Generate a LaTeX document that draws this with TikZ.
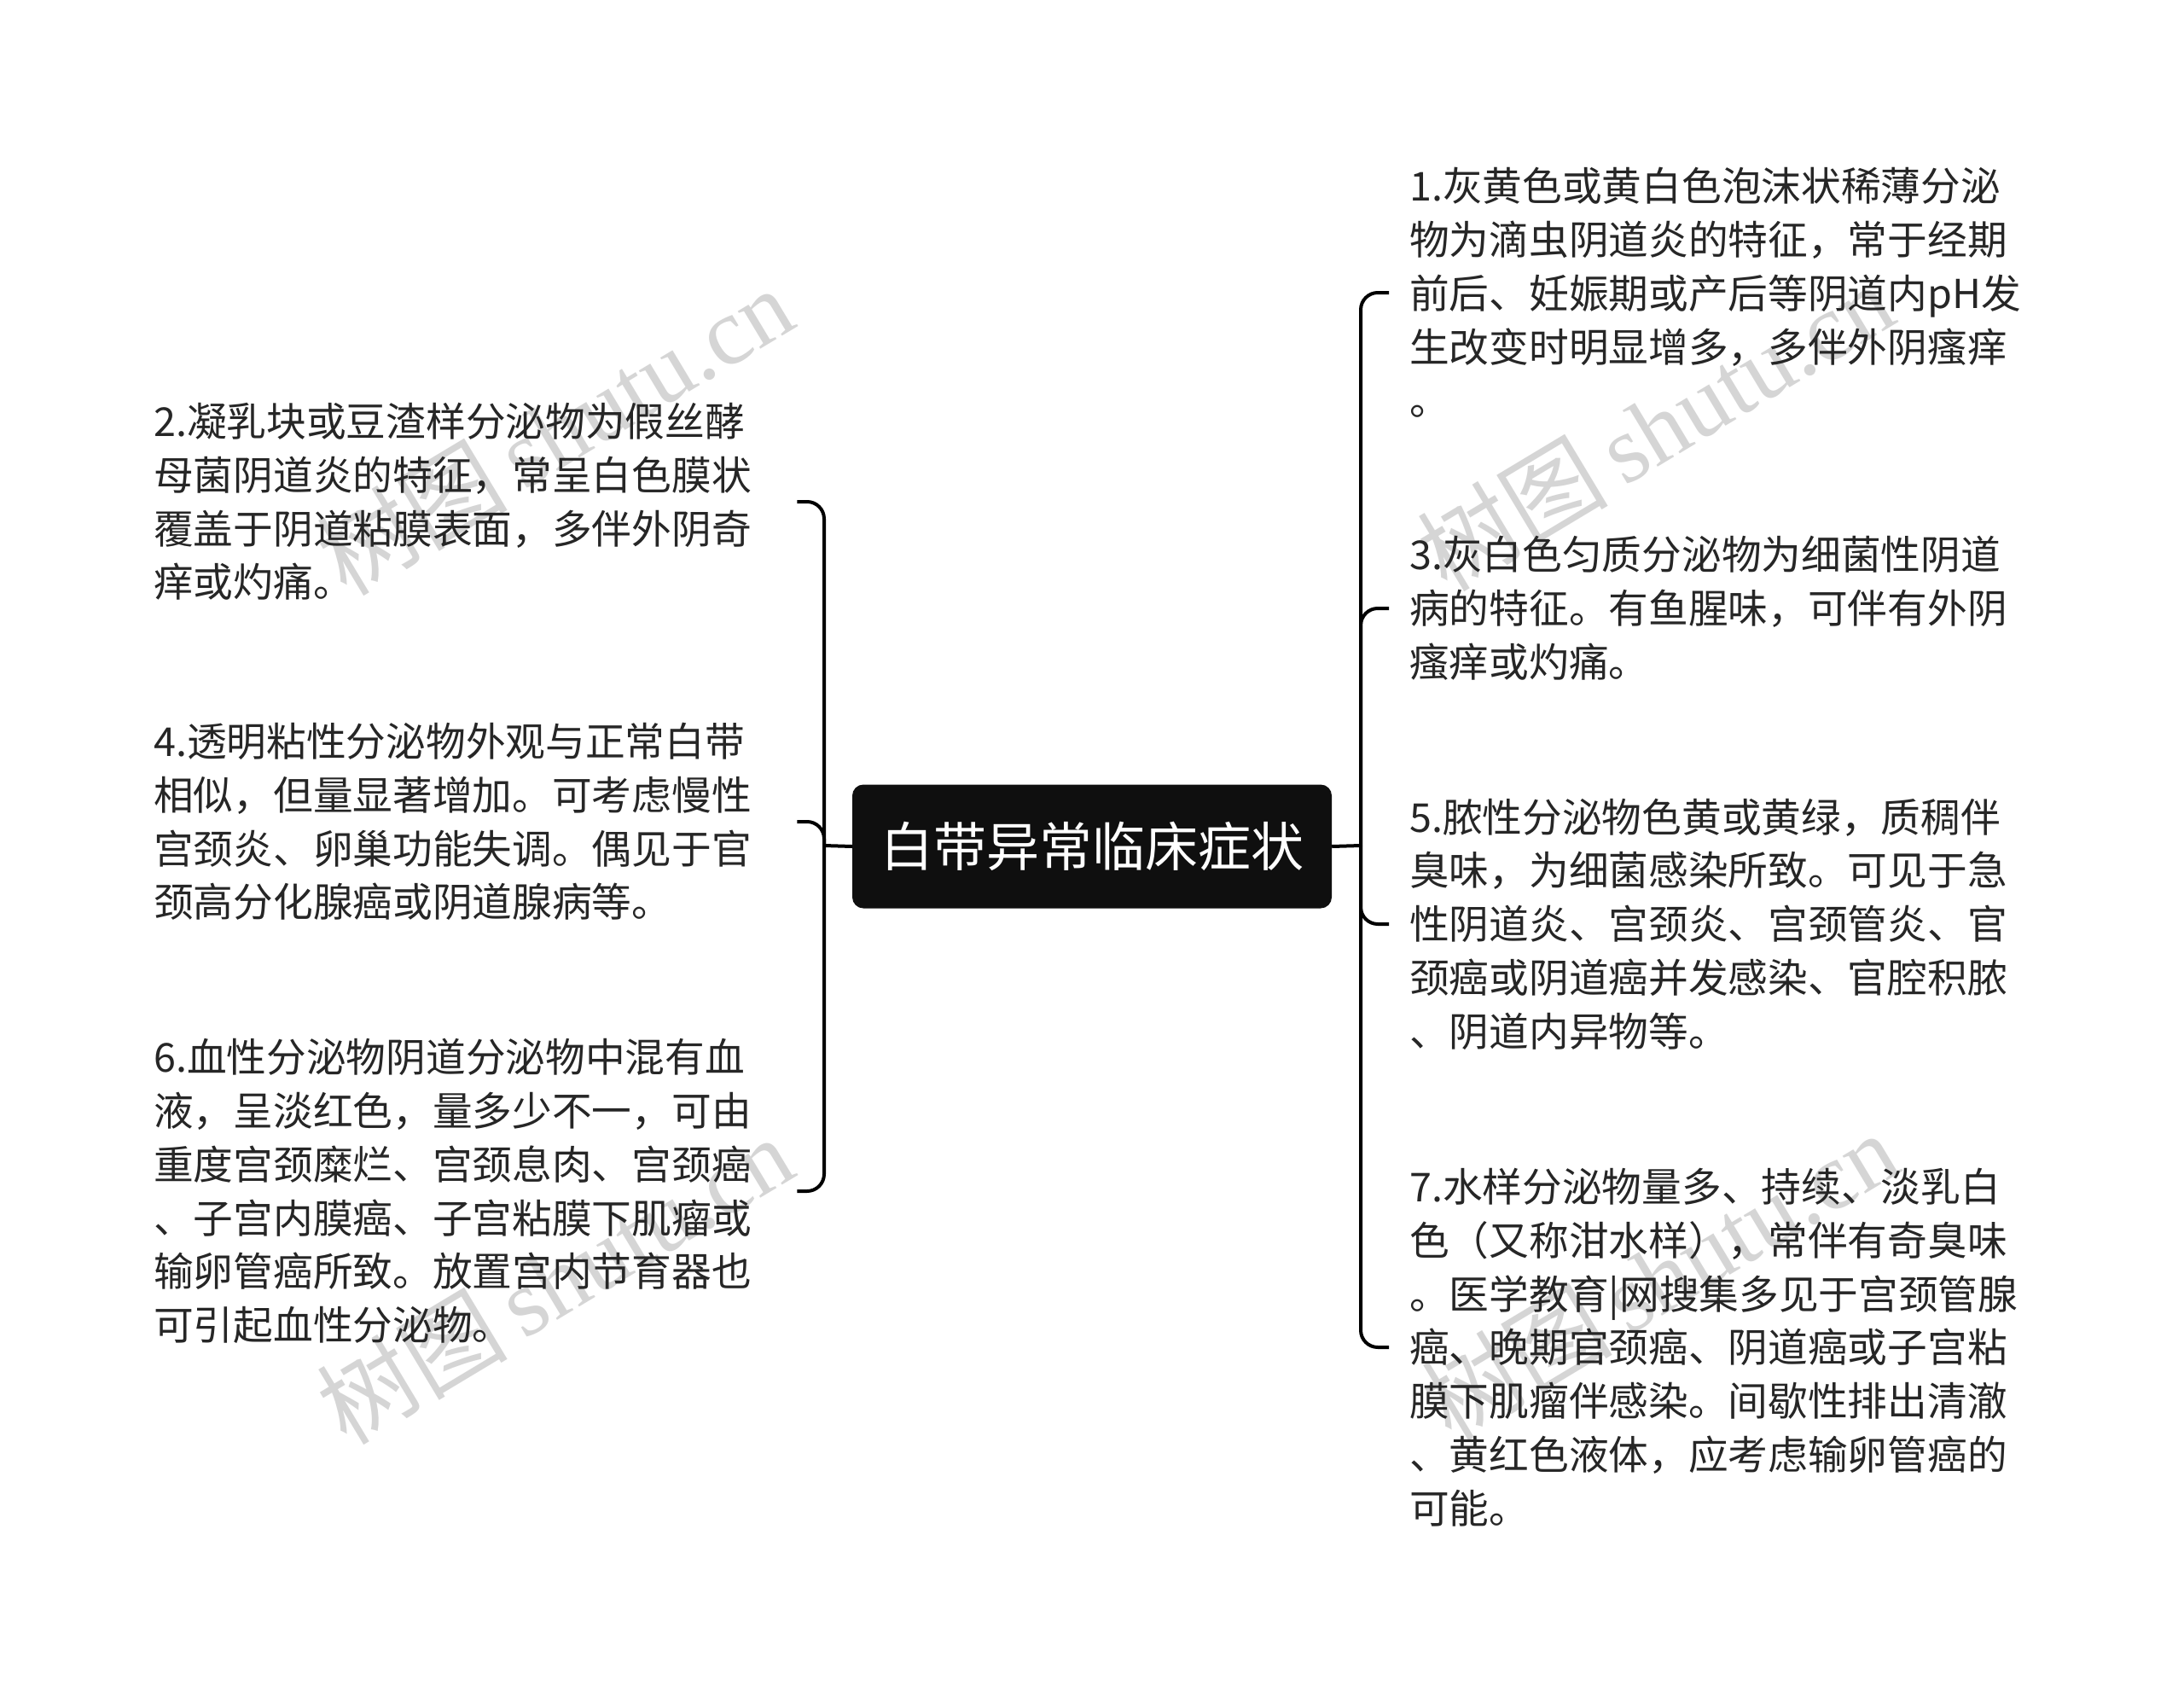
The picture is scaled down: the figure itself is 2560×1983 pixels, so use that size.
\documentclass[tikz,border=0pt]{standalone}
\usepackage{fontspec}
\newfontfamily\cjk{Noto Sans CJK SC}
\newfontfamily\wmserif{Liberation Serif}
\definecolor{txt}{HTML}{262626}
\definecolor{rootfill}{HTML}{0F0F0F}
\definecolor{wm}{HTML}{C8C8C8}
\tikzset{
  leaf/.style={anchor=west, inner sep=0pt, align=left, text=txt,
    font=\cjk\fontsize{46.7}{62.8}\selectfont},
  leftleaf/.style={leaf, text width=754pt},
  rightleaf/.style={leaf, inner xsep=24pt, inner ysep=0pt},
  rootbox/.style={fill=rootfill, rounded corners=13pt, minimum width=562pt,
    minimum height=145pt, inner sep=0pt, text=white,
    font=\cjk\fontsize{62}{70}\selectfont},
  link/.style={line width=4pt, draw=black, rounded corners=20pt},
  watermark/.style={rotate=31, text=wm, opacity=0.75, inner sep=0pt}
}
\begin{document}
\begin{tikzpicture}[x=1pt,y=-1pt]
\useasboundingbox (0,0) rectangle (2560,1983);
\fill[white] (0,0) rectangle (2560,1983);

% watermarks
\node[watermark] (wm1) at (650,505) {\cjk\fontsize{112}{112}\selectfont 树图\,\wmserif shutu.cn};
\node[watermark] (wm2) at (1940,500) {\cjk\fontsize{112}{112}\selectfont 树图\,\wmserif shutu.cn};
\node[watermark] (wm3) at (650,1500) {\cjk\fontsize{112}{112}\selectfont 树图\,\wmserif shutu.cn};
\node[watermark] (wm4) at (1945,1495) {\cjk\fontsize{112}{112}\selectfont 树图\,\wmserif shutu.cn};

% root
\node[rootbox] (root) at (1280,992) {白带异常临床症状};

% left leaves
\node[leftleaf] (n2) at (180,588) {2.凝乳块或豆渣样分泌物为假丝酵\\母菌阴道炎的特征，常呈白色膜状\\覆盖于阴道粘膜表面，多伴外阴奇\\痒或灼痛。};
\node[leftleaf] (n4) at (180,963) {4.透明粘性分泌物外观与正常白带\\相似，但量显著增加。可考虑慢性\\宫颈炎、卵巢功能失调。偶见于官\\颈高分化腺癌或阴道腺病等。};
\node[leftleaf] (n6) at (180,1396) {6.血性分泌物阴道分泌物中混有血\\液，呈淡红色，量多少不一，可由\\重度宫颈糜烂、宫颈息肉、宫颈癌\\、子宫内膜癌、子宫粘膜下肌瘤或\\输卵管癌所致。放置宫内节育器也\\可引起血性分泌物。};

% right leaves
\node[rightleaf] (n1) at (1628,343) {1.灰黄色或黄白色泡沫状稀薄分泌\\物为滴虫阴道炎的特征，常于经期\\前后、妊娠期或产后等阴道内pH发\\生改变时明显增多，多伴外阴瘙痒\\。};
\node[rightleaf] (n3) at (1628,713) {3.灰白色匀质分泌物为细菌性阴道\\病的特征。有鱼腥味，可伴有外阴\\瘙痒或灼痛。};
\node[rightleaf] (n5) at (1628,1083) {5.脓性分泌物色黄或黄绿，质稠伴\\臭味，为细菌感染所致。可见于急\\性阴道炎、宫颈炎、宫颈管炎、官\\颈癌或阴道癌并发感染、官腔积脓\\、阴道内异物等。};
\node[rightleaf] (n7) at (1628,1579) {7.水样分泌物量多、持续、淡乳白\\色（又称泔水样），常伴有奇臭味\\。医学教育|网搜集多见于宫颈管腺\\癌、晚期官颈癌、阴道癌或子宫粘\\膜下肌瘤伴感染。间歇性排出清澈\\、黄红色液体，应考虑输卵管癌的\\可能。};

% junctions
\coordinate (LJ) at (966,991);
\coordinate (RJ) at (1595,991);

% connectors
\draw[link] (root.west) -- (LJ);
\draw[link] (root.east) -- (RJ);
\foreach \c in {n2,n4,n6} {\draw[link] (LJ) |- (\c.east);}
\foreach \c in {n1,n3,n5,n7} {\draw[link] (RJ) |- (\c.west);}
\end{tikzpicture}
\end{document}
